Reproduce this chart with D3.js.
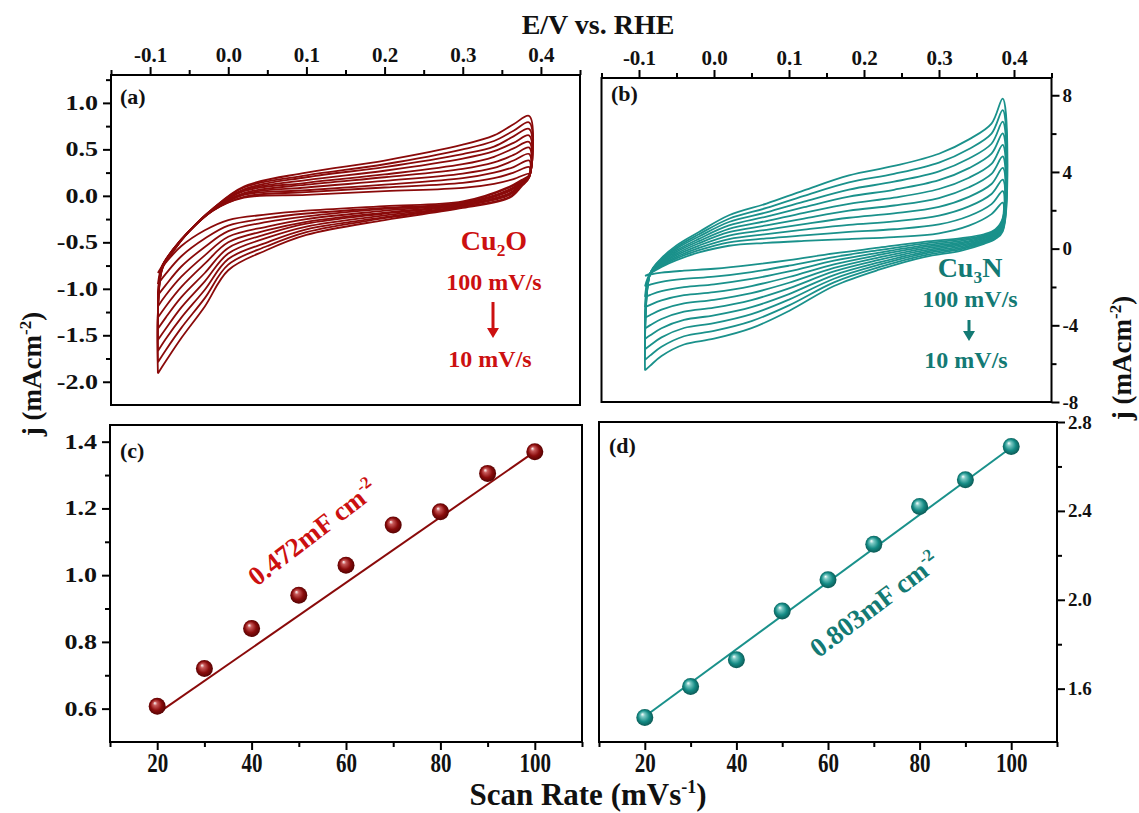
<!DOCTYPE html>
<html><head><meta charset="utf-8">
<script src="https://cdn.jsdelivr.net/npm/d3@7"></script>
<style>
body{margin:0;background:#fff}
text{font-family:"Liberation Serif","Times New Roman",serif;font-weight:bold;fill:#111}
</style>
</head><body>
<svg id="fig" width="1139" height="813"></svg>
<script>
// ---- data ----
const scanRates = [10, 20, 30, 40, 50, 60, 70, 80, 90, 100];

// Cu2O cyclic voltammograms: potential grids (V vs RHE) and current density (mA cm-2), one row per scan rate
const cu2oAnodicE = [-0.09, -0.085, -0.07, -0.05, -0.02, 0.02, 0.1, 0.2, 0.3, 0.34, 0.365, 0.385];
const cu2oCathodicE = [0.385, 0.375, 0.36, 0.3, 0.2, 0.1, 0.05, 0.0, -0.03, -0.06, -0.08, -0.09];
const cu2oAnodicJ = [
  [-0.83,-0.76,-0.57,-0.38,-0.16,-0.02,0.01,0.05,0.085,0.13,0.18,0.24],
  [-0.95,-0.76,-0.57,-0.38,-0.16,-0.01,0.04,0.09,0.14,0.19,0.25,0.31],
  [-1.07,-0.77,-0.57,-0.38,-0.16,0.01,0.06,0.12,0.19,0.25,0.31,0.38],
  [-1.19,-0.77,-0.58,-0.38,-0.15,0.02,0.09,0.16,0.24,0.30,0.38,0.45],
  [-1.31,-0.78,-0.58,-0.38,-0.15,0.03,0.12,0.20,0.29,0.36,0.44,0.52],
  [-1.43,-0.78,-0.58,-0.38,-0.15,0.05,0.14,0.23,0.34,0.42,0.51,0.58],
  [-1.55,-0.79,-0.58,-0.38,-0.15,0.06,0.17,0.27,0.40,0.48,0.57,0.65],
  [-1.67,-0.79,-0.59,-0.38,-0.14,0.07,0.20,0.31,0.45,0.53,0.64,0.72],
  [-1.79,-0.80,-0.59,-0.38,-0.14,0.09,0.22,0.34,0.50,0.59,0.70,0.79],
  [-1.91,-0.80,-0.59,-0.38,-0.14,0.10,0.25,0.38,0.55,0.65,0.77,0.86]
];
const cu2oCathodicJ = [
  [0.22,0.17,0.10,-0.06,-0.11,-0.16,-0.20,-0.26,-0.37,-0.54,-0.72,-0.83],
  [0.22,0.16,0.09,-0.07,-0.13,-0.19,-0.24,-0.32,-0.46,-0.65,-0.84,-0.95],
  [0.22,0.15,0.07,-0.08,-0.14,-0.22,-0.28,-0.38,-0.55,-0.76,-0.96,-1.07],
  [0.21,0.15,0.06,-0.08,-0.16,-0.25,-0.33,-0.44,-0.64,-0.87,-1.07,-1.19],
  [0.21,0.14,0.05,-0.09,-0.18,-0.28,-0.37,-0.50,-0.73,-0.98,-1.19,-1.31],
  [0.21,0.13,0.03,-0.10,-0.19,-0.30,-0.41,-0.56,-0.83,-1.09,-1.31,-1.43],
  [0.21,0.12,0.02,-0.11,-0.21,-0.33,-0.45,-0.62,-0.92,-1.20,-1.43,-1.55],
  [0.20,0.12,0.01,-0.11,-0.23,-0.36,-0.50,-0.68,-1.01,-1.31,-1.54,-1.67],
  [0.20,0.11,-0.01,-0.12,-0.24,-0.39,-0.54,-0.74,-1.10,-1.42,-1.66,-1.79],
  [0.20,0.10,-0.02,-0.13,-0.26,-0.42,-0.58,-0.80,-1.19,-1.53,-1.78,-1.91]
];

// Cu3N cyclic voltammograms
const cu3nAnodicE = [-0.092, -0.085, -0.07, -0.05, -0.02, 0.02, 0.07, 0.12, 0.18, 0.24, 0.3, 0.34, 0.37, 0.385];
const cu3nCathodicE = [0.385, 0.375, 0.36, 0.33, 0.28, 0.22, 0.16, 0.1, 0.05, 0.0, -0.04, -0.07, -0.085, -0.092];
const cu3nAnodicJ = [
  [-1.42,-1.30,-0.95,-0.60,-0.20,0.15,0.30,0.40,0.50,0.60,0.80,1.20,1.80,2.40],
  [-1.97,-1.30,-0.90,-0.51,-0.08,0.33,0.53,0.69,0.87,1.01,1.26,1.70,2.32,3.00],
  [-2.52,-1.30,-0.85,-0.43,0.04,0.50,0.76,0.99,1.24,1.42,1.72,2.20,2.85,3.60],
  [-3.06,-1.30,-0.80,-0.34,0.16,0.68,0.98,1.28,1.61,1.84,2.18,2.70,3.37,4.21],
  [-3.61,-1.30,-0.75,-0.26,0.28,0.86,1.21,1.57,1.98,2.25,2.64,3.20,3.90,4.81],
  [-4.16,-1.30,-0.70,-0.17,0.39,1.03,1.44,1.87,2.34,2.66,3.11,3.70,4.42,5.41],
  [-4.71,-1.30,-0.65,-0.09,0.51,1.21,1.67,2.16,2.71,3.07,3.57,4.20,4.95,6.01],
  [-5.25,-1.30,-0.60,0.00,0.63,1.39,1.89,2.45,3.08,3.49,4.03,4.70,5.47,6.62],
  [-5.80,-1.30,-0.55,0.08,0.75,1.56,2.12,2.75,3.45,3.90,4.49,5.20,6.00,7.22],
  [-6.35,-1.30,-0.50,0.17,0.87,1.74,2.35,3.04,3.82,4.31,4.95,5.70,6.52,7.82]
];
const cu3nCathodicJ = [
  [1.60,1.00,0.75,0.55,0.35,0.05,-0.25,-0.60,-0.85,-1.05,-1.15,-1.25,-1.35,-1.42],
  [1.52,0.94,0.69,0.48,0.26,-0.08,-0.44,-0.89,-1.22,-1.46,-1.58,-1.73,-1.88,-1.97],
  [1.44,0.89,0.64,0.41,0.17,-0.21,-0.63,-1.19,-1.58,-1.86,-2.01,-2.22,-2.41,-2.52],
  [1.37,0.83,0.58,0.33,0.09,-0.33,-0.82,-1.48,-1.95,-2.27,-2.43,-2.70,-2.93,-3.06],
  [1.29,0.78,0.53,0.26,0.00,-0.46,-1.01,-1.78,-2.32,-2.67,-2.86,-3.18,-3.46,-3.61],
  [1.21,0.72,0.47,0.19,-0.09,-0.59,-1.19,-2.07,-2.68,-3.08,-3.29,-3.67,-3.99,-4.16],
  [1.13,0.67,0.42,0.12,-0.18,-0.72,-1.38,-2.37,-3.05,-3.48,-3.72,-4.15,-4.52,-4.71],
  [1.06,0.61,0.36,0.04,-0.26,-0.84,-1.57,-2.66,-3.42,-3.89,-4.14,-4.63,-5.04,-5.25],
  [0.98,0.56,0.31,-0.03,-0.35,-0.97,-1.76,-2.96,-3.78,-4.29,-4.57,-5.12,-5.57,-5.80],
  [0.90,0.50,0.25,-0.10,-0.44,-1.10,-1.95,-3.25,-4.15,-4.70,-5.00,-5.60,-6.10,-6.35]
];

// double-layer current vs scan rate
const dlScanRates = [20, 30, 40, 50, 60, 70, 80, 90, 100];
const cu2oDeltaJ = [0.607, 0.72, 0.84, 0.94, 1.03, 1.15, 1.19, 1.305, 1.37];
const cu3nDeltaJ = [1.47, 1.61, 1.73, 1.95, 2.09, 2.25, 2.42, 2.54, 2.69];
// fitted lines, evaluated at the ends of the scan-rate range
const cu2oFit = [[20, 0.585], [100, 1.37]];
const cu3nFit = [[20, 1.475], [100, 2.685]];

// axis ticks
const potentialTicks = [-0.1, 0.0, 0.1, 0.2, 0.3, 0.4];
const potentialMinor = [-0.15, -0.05, 0.05, 0.15, 0.25, 0.35, 0.45];
const cu2oJTicks = [-2.0, -1.5, -1.0, -0.5, 0.0, 0.5, 1.0];
const cu2oJMinor = [-1.75, -1.25, -0.75, -0.25, 0.25, 0.75, 1.25];
const cu3nJTicks = [-8, -4, 0, 4, 8];
const cu3nJMinor = [-6, -2, 2, 6];
const rateTicks = [20, 40, 60, 80, 100];
const rateMinor = [10, 30, 50, 70, 90, 110];
const cu2oDlTicks = [0.6, 0.8, 1.0, 1.2, 1.4];
const cu2oDlMinor = [0.7, 0.9, 1.1, 1.3];
const cu3nDlTicks = [1.6, 2.0, 2.4, 2.8];
const cu3nDlMinor = [1.8, 2.2, 2.6];

// ---- drawing ----
const svg = d3.select("#fig");
const RED_LINE = "#8a0a0a", RED_TEXT = "#cc1010";
const TEAL_LINE = "#1a918b", TEAL_TEXT = "#137a74";
const fmt1 = d => d.toFixed(1);
const fmt0 = d => String(d);

// sphere gradients
const defs = svg.append("defs");
function sphere(id, light, mid, dark) {
  const g = defs.append("radialGradient").attr("id", id)
    .attr("cx", "50%").attr("cy", "50%").attr("r", "55%")
    .attr("fx", "35%").attr("fy", "30%");
  g.append("stop").attr("offset", "0%").attr("stop-color", "#ffffff");
  g.append("stop").attr("offset", "22%").attr("stop-color", light);
  g.append("stop").attr("offset", "60%").attr("stop-color", mid);
  g.append("stop").attr("offset", "100%").attr("stop-color", dark);
}
sphere("ballRed", "#c85a5a", "#8a0c0c", "#4a0000");
sphere("ballTeal", "#7cc9c4", "#148b85", "#0a4f4b");

function frame(x, y) {
  const [x0, x1] = x.range(), [y0, y1] = y.range();
  svg.append("rect").attr("x", x0).attr("y", y1)
    .attr("width", x1 - x0).attr("height", y0 - y1)
    .attr("fill", "none").attr("stroke", "#000").attr("stroke-width", 2);
}

// ticks: minor + labelled major; sx/sy stretch the label glyphs
function axis(gen, scale, pos, major, minor, fmt, fontSize, pad, sx, sy) {
  const g = svg.append("g").attr("transform", pos);
  g.call(gen(scale).tickValues(minor).tickSize(5).tickFormat("").tickSizeOuter(0));
  const m = svg.append("g").attr("transform", pos)
    .call(gen(scale).tickValues(major).tickSize(8).tickPadding(pad).tickFormat(fmt).tickSizeOuter(0));
  [g, m].forEach(s => {
    s.select(".domain").remove();
    s.selectAll("line").attr("stroke", "#000").attr("stroke-width", 2);
  });
  m.selectAll("text").attr("font-size", fontSize).attr("fill", "#111")
    .attr("font-family", "Liberation Serif").attr("font-weight", "bold")
    .attr("transform", `scale(${sx || 1},${sy || 1})`);
  return m;
}

function loops(x, y, aE, aJ, cE, cJ, color) {
  const line = d3.line().x(d => x(d[0])).y(d => y(d[1])).curve(d3.curveCatmullRom.alpha(0.5));
  const g = svg.append("g");
  scanRates.forEach((r, k) => {
    const pts = aE.map((e, i) => [e, aJ[k][i]]).concat(cE.map((e, i) => [e, cJ[k][i]]));
    g.append("path").attr("d", line(pts)).attr("fill", "none")
      .attr("stroke", color).attr("stroke-width", 1.8).attr("stroke-linejoin", "round");
  });
}

function scatterFit(x, y, rates, vals, fit, color, ball) {
  svg.append("path")
    .attr("d", d3.line().x(d => x(d[0])).y(d => y(d[1]))(fit))
    .attr("fill", "none").attr("stroke", color).attr("stroke-width", 2);
  svg.append("g").selectAll("circle").data(rates).join("circle")
    .attr("cx", d => x(d)).attr("cy", (d, i) => y(vals[i])).attr("r", 8.5)
    .attr("fill", `url(#${ball})`);
}

// panel (a)
const xa = d3.scaleLinear().domain([-0.15, 0.45]).range([111, 580]);
const ya = d3.scaleLinear().domain([-2.25, 1.3]).range([405, 75]);
loops(xa, ya, cu2oAnodicE, cu2oAnodicJ, cu2oCathodicE, cu2oCathodicJ, RED_LINE);
frame(xa, ya);
axis(d3.axisTop, xa, `translate(0,${ya.range()[1]})`, potentialTicks, potentialMinor, fmt1, 21, 5);
axis(d3.axisLeft, ya, `translate(${xa.range()[0]},0)`, cu2oJTicks, cu2oJMinor, fmt1, 20, 2, 1.3, 1);

// panel (b)
const xb = d3.scaleLinear().domain([-0.15, 0.45]).range([601.5, 1051.5]);
const yb = d3.scaleLinear().domain([-8, 8.9]).range([402, 78]);
loops(xb, yb, cu3nAnodicE, cu3nAnodicJ, cu3nCathodicE, cu3nCathodicJ, TEAL_LINE);
frame(xb, yb);
axis(d3.axisTop, xb, `translate(0,${yb.range()[1]})`, potentialTicks, potentialMinor, fmt1, 21, 5);
axis(d3.axisRight, yb, `translate(${xb.range()[1]},0)`, cu3nJTicks, cu3nJMinor, fmt0, 19, 3);

// panel (c)
const xc = d3.scaleLinear().domain([10, 110]).range([110, 582]);
const yc = d3.scaleLinear().domain([0.5, 1.45]).range([742, 425]);
scatterFit(xc, yc, dlScanRates, cu2oDeltaJ, cu2oFit, RED_LINE, "ballRed");
frame(xc, yc);
axis(d3.axisBottom, xc, `translate(0,${yc.range()[0]})`, rateTicks, rateMinor, fmt0, 21, 1, 1, 1.25);
axis(d3.axisLeft, yc, `translate(${xc.range()[0]},0)`, cu2oDlTicks, cu2oDlMinor, fmt1, 20, 2, 1.3, 1);

// panel (d)
const xd = d3.scaleLinear().domain([10, 110]).range([599, 1057]);
const yd = d3.scaleLinear().domain([1.36, 2.8]).range([742, 422]);
scatterFit(xd, yd, dlScanRates, cu3nDeltaJ, cu3nFit, TEAL_LINE, "ballTeal");
frame(xd, yd);
axis(d3.axisBottom, xd, `translate(0,${yd.range()[0]})`, rateTicks, rateMinor, fmt0, 21, 1, 1, 1.25);
axis(d3.axisRight, yd, `translate(${xd.range()[1]},0)`, cu3nDlTicks, cu3nDlMinor, fmt1, 19, 3);

// panel letters
[["(a)", 120, 104], ["(b)", 611, 101], ["(c)", 120, 458], ["(d)", 609, 453]].forEach(([t, x, y]) =>
  svg.append("text").attr("x", x).attr("y", y).attr("font-size", 22).text(t));

// axis titles
svg.append("text").attr("x", 598).attr("y", 34).attr("text-anchor", "middle")
  .attr("font-size", 28).text("E/V vs. RHE");
const sr = svg.append("text").attr("x", 588).attr("y", 805)
  .attr("text-anchor", "middle").attr("font-size", 31);
sr.append("tspan").text("Scan Rate (mVs");
sr.append("tspan").attr("dy", -12).attr("font-size", 18).text("-1");
sr.append("tspan").attr("dy", 12).text(")");

function jLabel(x, y) {
  const t = svg.append("text").attr("transform", `translate(${x},${y}) rotate(-90)`)
    .attr("text-anchor", "middle").attr("font-size", 27);
  t.append("tspan").text("j (mAcm");
  t.append("tspan").attr("dy", -10).attr("font-size", 17).text("-2");
  t.append("tspan").attr("dy", 10).text(")");
}
jLabel(41, 374);
jLabel(1131, 358);

// annotations
function rateNote(cx, color, title, sub, rest, yT, y100, yArrow0, yArrow1, y10, fsT) {
  const t = svg.append("text").attr("x", cx).attr("y", yT).attr("text-anchor", "middle")
    .attr("font-size", fsT).style("fill", color);
  t.append("tspan").text(title);
  t.append("tspan").attr("dy", 6).attr("font-size", fsT * 0.62).text(sub);
  t.append("tspan").attr("dy", -6).text(rest);
  svg.append("text").attr("x", cx).attr("y", y100).attr("text-anchor", "middle")
    .attr("font-size", 24).style("fill", color).text("100 mV/s");
  svg.append("line").attr("x1", cx - 1).attr("x2", cx - 1).attr("y1", yArrow0).attr("y2", yArrow1 - 8)
    .attr("stroke", color).attr("stroke-width", 3);
  svg.append("path").attr("d", `M${cx - 7},${yArrow1 - 10}L${cx + 5},${yArrow1 - 10}L${cx - 1},${yArrow1}Z`)
    .attr("fill", color);
  svg.append("text").attr("x", cx - 4).attr("y", y10).attr("text-anchor", "middle")
    .attr("font-size", 24).style("fill", color).text("10 mV/s");
}
rateNote(494, RED_TEXT, "Cu", "2", "O", 250, 290, 302, 338, 367, 28);
rateNote(970, TEAL_TEXT, "Cu", "3", "N", 277, 307, 320, 341, 368, 28);

// capacitance labels
svg.append("text").attr("transform", "translate(318,540) rotate(-37.5)").attr("text-anchor", "middle")
  .attr("font-size", 27).style("fill", RED_TEXT)
  .call(t => { t.append("tspan").text("0.472mF cm"); t.append("tspan").attr("dy", -11).attr("font-size", 17).text("-2"); });
svg.append("text").attr("transform", "translate(880,612) rotate(-37)").attr("text-anchor", "middle")
  .attr("font-size", 27).style("fill", TEAL_TEXT)
  .call(t => { t.append("tspan").text("0.803mF cm"); t.append("tspan").attr("dy", -11).attr("font-size", 17).text("-2"); });
</script>
</body></html>
